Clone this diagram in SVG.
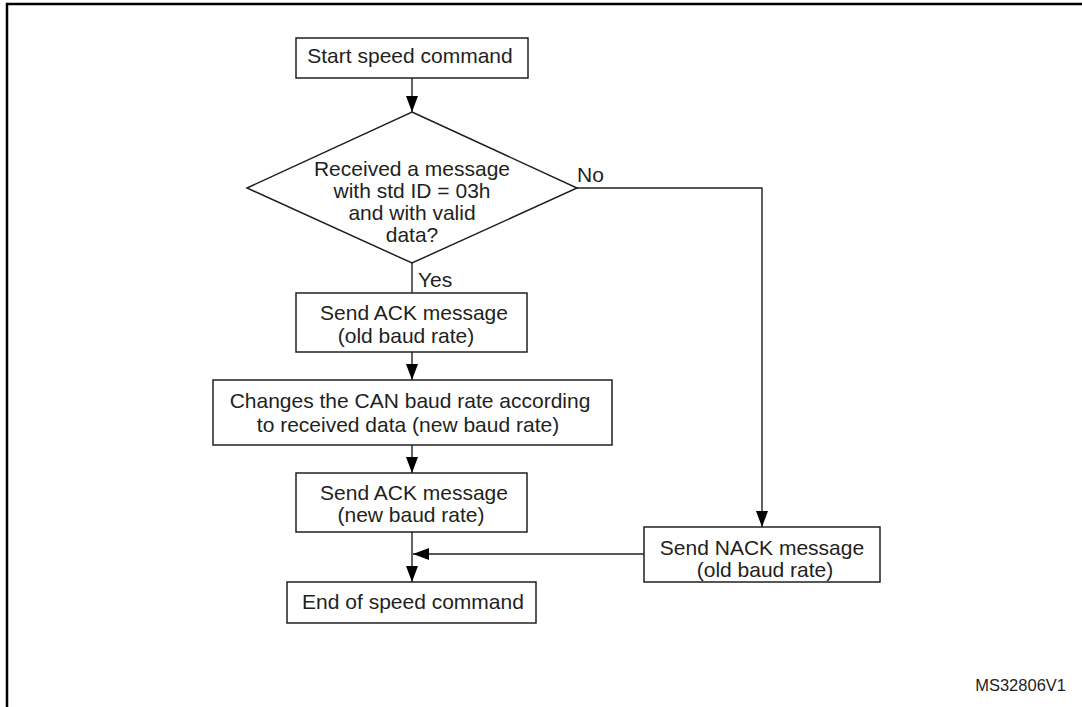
<svg xmlns="http://www.w3.org/2000/svg" width="1082" height="707" viewBox="0 0 1082 707">
<style>
.b{fill:#fff;stroke:#231f20;stroke-width:1.5}
.t{font-family:"Liberation Sans",Arial,sans-serif;font-size:21px;fill:#231f20;text-anchor:middle}
.l{font-family:"Liberation Sans",Arial,sans-serif;font-size:21px;fill:#231f20}
.c{fill:none;stroke:#231f20;stroke-width:1.4}
</style>
<defs>
<marker id="ah" markerWidth="16" markerHeight="12" refX="16" refY="6" orient="auto" markerUnits="userSpaceOnUse">
<path d="M0,0 L16,6 L0,12 Z" fill="#000"/>
</marker>
</defs>
<rect width="1082" height="707" fill="#fff"/>
<path d="M7,707 V4 H1082" fill="none" stroke="#000" stroke-width="2.5"/>
<g id="connectors">
<path class="c" d="M412,78 V112" marker-end="url(#ah)"/>
<path class="c" d="M412,263 V293"/>
<path class="c" d="M412,352 V380" marker-end="url(#ah)"/>
<path class="c" d="M412,445 V473" marker-end="url(#ah)"/>
<path class="c" d="M412,532 V582" marker-end="url(#ah)"/>
<path class="c" d="M577,188 H762 V527" marker-end="url(#ah)"/>
<path class="c" d="M644,554 H413" marker-end="url(#ah)"/>
<text class="l" x="577" y="182">No</text>
<text class="l" x="418" y="287">Yes</text>
</g>
<g id="start">
<rect class="b" x="296" y="38" width="232" height="40"/>
<text class="t" x="410" y="63">Start speed command</text>
</g>
<g id="decision">
<polygon class="b" points="412,112 577,188 412,263 247,188"/>
<text class="t" x="412" y="176">Received a message</text>
<text class="t" x="412" y="198">with std ID = 03h</text>
<text class="t" x="412" y="220">and with valid</text>
<text class="t" x="412" y="242">data?</text>
</g>
<g id="ack-old">
<rect class="b" x="296" y="293" width="231" height="59"/>
<text class="t" x="414" y="320">Send ACK message</text>
<text class="t" x="406" y="343">(old baud rate)</text>
</g>
<g id="change">
<rect class="b" x="213" y="380" width="399" height="65"/>
<text class="t" x="410" y="408">Changes the CAN baud rate according</text>
<text class="t" x="408" y="432">to received data (new baud rate)</text>
</g>
<g id="ack-new">
<rect class="b" x="296" y="473" width="231" height="59"/>
<text class="t" x="414" y="500">Send ACK message</text>
<text class="t" x="411" y="522">(new baud rate)</text>
</g>
<g id="nack">
<rect class="b" x="644" y="527" width="236" height="55"/>
<text class="t" x="762" y="555">Send NACK message</text>
<text class="t" x="765" y="577">(old baud rate)</text>
</g>
<g id="end">
<rect class="b" x="287" y="582" width="249" height="41"/>
<text class="t" x="413" y="609">End of speed command</text>
</g>
<text x="1066" y="691" font-family="Liberation Sans, Arial, sans-serif" font-size="16.5" fill="#231f20" text-anchor="end">MS32806V1</text>
</svg>
